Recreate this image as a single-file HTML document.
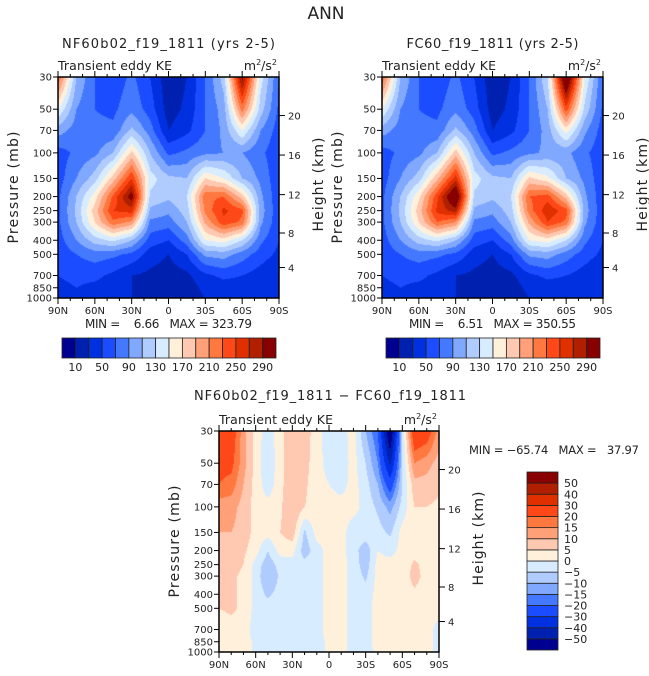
<!DOCTYPE html>
<html><head><meta charset="utf-8"><style>
body{margin:0;background:#fff;width:649px;height:676px;overflow:hidden;position:relative;font-family:"DejaVu Sans",sans-serif}
canvas{position:absolute}
svg{position:absolute;left:0;top:0}
text{font-family:"DejaVu Sans","Liberation Sans",sans-serif;fill:#222;white-space:pre}
</style></head><body>
<canvas id="c1" style="left:58px;top:77px" width="221" height="221"></canvas>
<canvas id="c2" style="left:382px;top:77px" width="221" height="221"></canvas>
<canvas id="c3" style="left:219px;top:431px" width="220" height="221"></canvas>
<svg id="ov" width="649" height="676"></svg>
<script>
const pres=[30,50,70,100,150,200,250,300,400,500,700,850,1000];
const lats13=[90,75,60,45,30,15,0,-15,-30,-45,-60,-75,-90];
const lats19=[90,80,70,60,50,40,30,20,10,0,-10,-20,-30,-40,-50,-60,-70,-80,-90];
const levelsTop=[10,30,50,70,90,110,130,150,170,190,210,230,250,270,290];
const levelsDiff=[-50,-40,-30,-20,-15,-10,-5,0,5,10,15,20,30,40,50];
const colors=["#000090","#0020B0","#0030E0","#1C4CFF","#4478FF","#80A8FF","#B0CCFF","#D8ECFF","#FFF0DC","#FFC8B0","#FFA078","#FF7840","#FF4818","#E03000","#B02000","#880000"];
const pLabels=[30,50,70,100,150,200,250,300,400,500,700,850,1000];
const hLabels=[4,8,12,16,20];
const hPres=[616.6,356.5,194.0,103.5,55.3];
const xLabels=["90N","60N","30N","0","30S","60S","90S"];
const gridA=[
[230,110,70,55,75,50,15,30,70,120,300,140,70],
[150,90,70,65,85,60,20,35,70,100,220,120,65],
[100,80,75,75,115,80,30,45,70,95,150,90,60],
[60,75,85,110,175,110,65,75,85,90,90,75,55],
[60,90,120,180,250,140,115,110,170,150,110,85,55],
[65,110,160,235,305,125,115,130,225,230,180,95,55],
[65,115,180,250,260,105,95,120,215,255,235,100,55],
[65,110,170,225,205,85,80,110,195,245,225,95,55],
[60,90,120,135,110,60,50,80,150,160,130,75,50],
[55,70,80,75,65,40,30,50,95,100,80,60,45],
[50,55,55,45,30,25,20,25,45,55,50,40,30],
[45,50,45,40,30,30,20,20,35,40,40,35,30],
[45,45,45,40,30,25,20,20,30,40,40,35,30]];
const gridB=[
[230,110,70,55,75,50,15,30,70,130,345,150,70],
[150,90,70,65,85,60,20,35,70,110,240,125,65],
[100,80,75,75,115,80,30,45,70,100,160,95,60],
[60,75,85,110,180,110,65,75,85,95,95,75,55],
[60,90,120,185,260,140,115,110,175,155,110,85,55],
[65,110,165,245,335,125,115,130,230,240,180,95,55],
[65,115,180,255,280,105,95,120,220,265,240,100,55],
[65,110,170,230,210,85,80,110,195,250,225,95,55],
[60,90,120,135,110,60,50,80,150,160,130,75,50],
[55,70,80,75,65,40,30,50,95,100,80,60,45],
[50,55,55,45,30,25,20,25,45,55,50,40,30],
[45,50,45,40,30,30,20,20,35,40,40,35,30],
[45,45,45,40,30,25,20,20,30,40,40,35,30]];
const gridD=[
[25,25,12,3,-3,3,10,8,2,-3,-2,2,-10,-20,-62,-5,28,25,12],
[22,22,12,3,-4,3,10,7,2,-2,-3,2,-5,-15,-42,-5,15,12,8],
[20,18,10,3,-3,3,10,6,2,0,-2,2,-3,-10,-25,-5,8,8,6],
[12,12,8,3,2,4,10,5,3,2,2,2,-2,-6,-12,-3,5,5,4],
[10,10,8,3,2,5,8,-6,2,2,2,-3,-2,-3,-6,2,3,3,3],
[8,8,6,2,-5,2,2,-8,-2,2,2,-3,-8,0,-2,2,3,3,2],
[7,7,5,-2,-8,-3,-2,-3,-2,2,2,-2,-8,2,2,2,6,3,2],
[6,6,4,-2,-10,-4,-2,-2,-2,2,2,-2,-6,2,2,2,7,3,2],
[6,6,4,-2,-6,-3,-2,-2,-2,2,2,-2,-3,2,2,2,4,2,2],
[5,6,4,-2,-3,-2,-2,-2,-2,2,2,-2,-2,2,2,2,2,2,2],
[2,3,2,-2,-2,-2,-2,-2,-2,2,2,-2,-2,2,2,2,2,2,-2],
[3,2,2,-1,-2,-2,-2,-2,-2,1,2,-2,-2,2,2,2,2,2,-2],
[3,2,2,-1,-2,-2,-2,-2,-2,1,2,-2,-3,2,2,2,2,2,-2]];

function yOf(p,top,h){return top+h*Math.log10(p/30)/Math.log10(1000/30);}
function xOf(lat,left,w){return left+w*(90-lat)/180;}
function sample(grid,lats,lat,p){
  const lp=Math.log(p);let r=0;
  while(r<pres.length-2&&Math.log(pres[r+1])<lp)r++;
  let ty=(lp-Math.log(pres[r]))/(Math.log(pres[r+1])-Math.log(pres[r]));ty=Math.max(0,Math.min(1,ty));
  let c=0;while(c<lats.length-2&&lats[c+1]>lat)c++;
  let tx=(lats[c]-lat)/(lats[c]-lats[c+1]);tx=Math.max(0,Math.min(1,tx));
  const a=grid[r][c]*(1-tx)+grid[r][c+1]*tx,b=grid[r+1][c]*(1-tx)+grid[r+1][c+1]*tx;
  return a*(1-ty)+b*ty;
}
function hex(h){return[parseInt(h.slice(1,3),16),parseInt(h.slice(3,5),16),parseInt(h.slice(5,7),16)];}
const rgb=colors.map(hex);
function draw(id,grid,lats,levels){
  const cv=document.getElementById(id),ctx=cv.getContext('2d'),w=cv.width,h=cv.height;
  const img=ctx.createImageData(w,h);
  for(let y=0;y<h;y++){const p=30*Math.pow(1000/30,(y+0.5)/h);
    for(let x=0;x<w;x++){const lat=90-180*(x+0.5)/w;const v=sample(grid,lats,lat,p);
      let k=0;while(k<levels.length&&v>=levels[k])k++;const c=rgb[k],i=(y*w+x)*4;
      img.data[i]=c[0];img.data[i+1]=c[1];img.data[i+2]=c[2];img.data[i+3]=255;}}
  ctx.putImageData(img,0,0);
}
draw('c1',gridA,lats13,levelsTop);
draw('c2',gridB,lats13,levelsTop);
draw('c3',gridD,lats19,levelsDiff);

const ov=document.getElementById('ov');const NS="http://www.w3.org/2000/svg";
function el(t,a,parent){const e=document.createElementNS(NS,t);for(const k in a)e.setAttribute(k,a[k]);(parent||ov).appendChild(e);return e;}
function txt(s,x,y,size,anchor,name,extra){const e=el('text',Object.assign({x:x,y:y,'font-size':size,'text-anchor':anchor||'start'},extra||{}));e.textContent=s;


return e;}
function panel(L,T,W,H,title,titleLen,minmax,tag){
  const g=el('g',{});
  
  
  el('rect',{x:L,y:T,width:W,height:H,fill:'none',stroke:'#000','stroke-width':1.5},g);
  for(let lat=90;lat>=-90;lat-=10){const x=xOf(lat,L,W);const major=lat%30===0;const len=major?6:3;
    el('line',{x1:x,y1:T,x2:x,y2:T-len,stroke:'#000'},g);el('line',{x1:x,y1:T+H,x2:x,y2:T+H+len,stroke:'#000'},g);}
  xLabels.forEach((s,i)=>{txt(s,L+W*i/6,T+H+16,10,'middle',tag+'-x-tick-label');});
  pLabels.forEach(p=>{const y=yOf(p,T,H);el('line',{x1:L,y1:y,x2:L-5,y2:y,stroke:'#000'},g);txt(String(p),L-6,y+3.5,10,'end',tag+'-pressure-tick-label');});
  hPres.forEach((p,i)=>{const y=yOf(p,T,H);el('line',{x1:L+W,y1:y,x2:L+W+6,y2:y,stroke:'#000'},g);txt(String(hLabels[i]),L+W+9,y+4,10,'start',tag+'-height-tick-label');});
  txt('Pressure (mb)',0,0,14,'middle',tag+'-y-axis-title',{transform:`translate(${L-40},${T+H/2}) rotate(-90)`,fill:'#444',textLength:112,lengthAdjust:'spacing'});
  txt('Height (km)',0,0,14,'middle',tag+'-y2-axis-title',{transform:`translate(${L+W+44},${T+H/2-3}) rotate(-90)`,fill:'#444',textLength:94,lengthAdjust:'spacing'});
  txt('Transient eddy KE',L,T-7,12.5,'start',tag+'-subtitle',{textLength:114,lengthAdjust:'spacing'});
  const u=txt('m',L+W-2,T-7,12.5,'end',tag+'-units');u.innerHTML='m<tspan dy="-5" font-size="8">2</tspan><tspan dy="5">/s</tspan><tspan dy="-5" font-size="8">2</tspan>';
  if(title)txt(title,L+W/2,T-29,13,'middle',tag+'-title',{fill:'#444',textLength:titleLen,lengthAdjust:'spacing'});
  if(minmax)txt(minmax,L+W/2,T+H+30,12,'middle',tag+'-min-max',{textLength:167,lengthAdjust:'spacing'});
}
txt('ANN',326,19,17,'middle','main-title',{fill:'#555'});
panel(58,77,221,221,'NF60b02_f19_1811 (yrs 2-5)',213,'MIN =    6.66   MAX = 323.79','left');
panel(382,77,221,221,'FC60_f19_1811 (yrs 2-5)',172,'MIN =    6.51   MAX = 350.55','right');
panel(219,431,220,221,null,0,null,'diff');
txt('NF60b02_f19_1811 \u2212 FC60_f19_1811',330,400,13,'middle','diff-title',{fill:'#444',textLength:272,lengthAdjust:'spacing'});
txt('MIN = \u221265.74   MAX =   37.97',469,454,11.5,'start','diff-min-max',{textLength:170,lengthAdjust:'spacing'});
function hbar(L,tag){const T=338,W=214,Hh=20,bw=W/16;
  colors.forEach((c,i)=>{const r=el('rect',{x:L+i*bw,y:T,width:bw,height:Hh,fill:c,stroke:'#222','stroke-width':0.8});
    
    });
  levelsTop.forEach((v,i)=>{if(i%2===0)txt(String(v),L+(i+1)*bw,T+Hh+13,11,'middle',tag+'-colorbar-label');});
}
hbar(62,'left');hbar(386,'right');
(function(){const L=527,T=472,W=31,H=178,bh=H/16;
  colors.forEach((c,i)=>{const r=el('rect',{x:L,y:T+H-(i+1)*bh,width:W,height:bh,fill:c,stroke:'#222','stroke-width':0.8});
    
    });
  levelsDiff.forEach((v,i)=>{txt(v<0?'\u2212'+(-v):String(v),L+W+6,T+H-(i+1)*bh+4,11,'start','diff-colorbar-label');});
})();
</script>
</body></html>
